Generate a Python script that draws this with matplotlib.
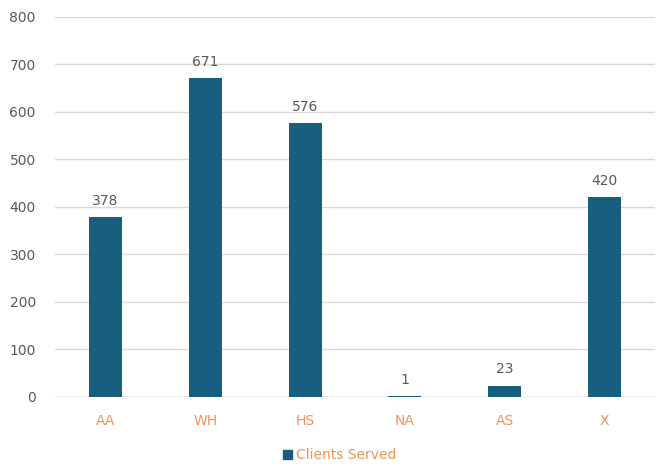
import matplotlib
matplotlib.use("Agg")
import matplotlib.pyplot as plt
from matplotlib.patches import Patch

categories = ["AA", "WH", "HS", "NA", "AS", "X"]
clients_served = [378, 671, 576, 1, 23, 420]
yticks = [0, 100, 200, 300, 400, 500, 600, 700, 800]

bar_color = "#175e7f"
label_orange = "#f0915a"
gray = "#595959"

fig = plt.figure(figsize=(6.66, 4.68), dpi=100)
ax = fig.add_axes([0.083, 0.152, 0.9, 0.812])
x = range(len(categories))
bars = ax.bar(x, clients_served, width=0.33, color=bar_color, zorder=3)
for xi, v in zip(x, clients_served):
    ax.text(xi, v + 20, str(v), ha="center", va="bottom", fontsize=10, color=gray)

ax.set_xlim(-0.5, len(categories) - 0.5)
ax.set_ylim(0, 800)
ax.set_yticks(yticks)
ax.set_yticklabels([str(t) for t in yticks], color=gray, fontsize=10)
ax.set_xticks(list(x))
ax.set_xticklabels(categories, color=label_orange, fontsize=10)
ax.tick_params(axis="both", length=0)
ax.tick_params(axis="x", pad=12)
ax.tick_params(axis="y", pad=14)
ax.grid(axis="y", color="#d9d9d9", linewidth=1, zorder=0)
for s in ax.spines.values():
    s.set_visible(False)
ax.axhline(0, color="#d0d0d0", linewidth=1, zorder=2)

leg = fig.legend(handles=[Patch(color=bar_color)], labels=["Clients Served"],
                 loc="center", bbox_to_anchor=(0.51, 0.027), frameon=False,
                 fontsize=10, handlelength=0.7, handleheight=0.7, handletextpad=0.3)
for t in leg.get_texts():
    t.set_color(label_orange)

fig.savefig("out.png", dpi=100)
